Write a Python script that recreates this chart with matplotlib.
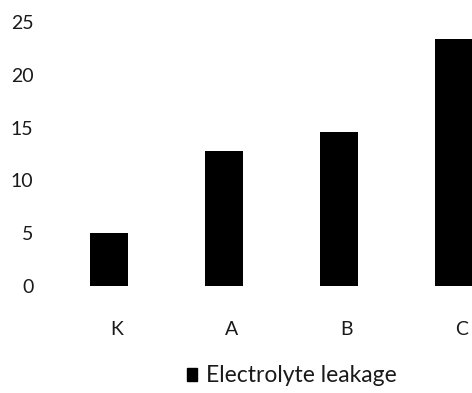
import matplotlib.pyplot as plt
from matplotlib.patches import Patch

categories = ['K', 'A', 'B', 'C']
leakage = [5.0, 12.8, 14.6, 23.4]
series_name = 'Electrolyte leakage'

plt.rcParams['font.family'] = ['Lato', 'DejaVu Sans']

fig = plt.figure(figsize=(4.72, 3.93), dpi=100)
# axes spans from x=50px to the right edge, y from 22px to 286px
ax = fig.add_axes([50 / 472, 1 - 286 / 393, 1 - 50 / 472, (286 - 22) / 393])

pos = list(range(len(categories)))
bar_pos = [p - 0.07 for p in pos]
ax.bar(bar_pos, leakage, width=0.33, color='black')

ax.set_xlim(-0.58, 3.09)
ax.set_ylim(0, 25)
ax.set_yticks([0, 5, 10, 15, 20, 25])
ax.set_xticks(pos)
ax.set_xticklabels(categories)
ax.tick_params(length=0, labelsize=14, colors='#1a1a1a')
ax.tick_params(axis='y', pad=12)
ax.tick_params(axis='x', pad=25)
for s in ax.spines.values():
    s.set_visible(False)

# legend sits at the very bottom of the figure
handle = Patch(facecolor='black', edgecolor='black')
fig.legend([handle], [series_name], loc='lower center', bbox_to_anchor=(0.619, -0.024),
           frameon=False, fontsize=16.5, handlelength=0.42, handleheight=0.5,
           handletextpad=0.4, labelcolor='#1a1a1a', borderpad=0.2)

fig.savefig('out.png', dpi=100)
